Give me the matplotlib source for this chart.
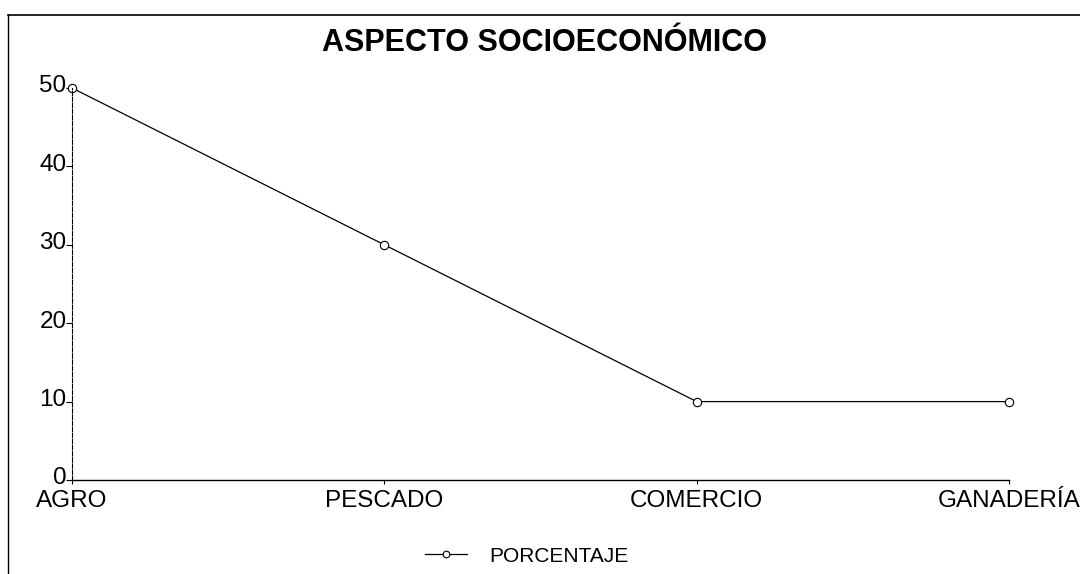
import matplotlib
matplotlib.use("Agg")
import matplotlib.pyplot as plt
import matplotlib.transforms as mtransforms
from matplotlib.lines import Line2D

categories = ["AGRO", "PESCADO", "COMERCIO", "GANADERÍA"]
porcentaje = [50, 30, 10, 10]
yticks = [0, 10, 20, 30, 40, 50]

plt.rcParams['font.family'] = ['Liberation Sans', 'DejaVu Sans']

W, H = 1080, 574
fig = plt.figure(figsize=(W / 100, H / 100), dpi=100)
ax = fig.add_axes([72 / W, 1 - 480 / H, (1009 - 72) / W, (480 - 88) / H])

x = list(range(len(categories)))
ax.plot(x, porcentaje, color='black', lw=0.9, marker='o', ms=6,
        mfc='white', mec='black', mew=0.8, label='PORCENTAJE', clip_on=False)

ax.set_xlim(0, len(categories) - 1)
ax.set_ylim(0, 50)
ax.set_xticks(x)
ax.set_xticklabels(categories, fontsize=17.5)
ax.set_yticks(yticks)
ax.set_yticklabels([str(v) for v in yticks], fontsize=17.5)
ax.tick_params(axis='y', length=4, width=0.8, pad=0, colors='black')
ax.tick_params(axis='x', length=3, width=0.8, pad=4, colors='black')
# nudge y tick labels slightly upward, as in the reference
offset = mtransforms.ScaledTranslation(0, 3 / 72, fig.dpi_scale_trans)
for lbl in ax.get_yticklabels():
    lbl.set_transform(lbl.get_transform() + offset)
for s in ['top', 'right']:
    ax.spines[s].set_visible(False)
ax.spines['left'].set_linestyle((0, (4, 1.5)))
ax.spines['left'].set_linewidth(0.8)
ax.spines['bottom'].set_linewidth(1.0)

fig.text(545 / W, 1 - 43 / H, "ASPECTO SOCIOECONÓMICO", ha='center', va='center',
         fontsize=22, fontweight='bold')

leg = fig.legend(loc='center', bbox_to_anchor=(527 / W, 1 - 556 / H), frameon=False,
                 fontsize=15, handlelength=2.0, handletextpad=1.1, markerscale=0.8)

# outer frame lines (left and top)
fig.add_artist(Line2D([8 / W, 8 / W], [0, 1 - 15 / H], transform=fig.transFigure,
                      color='black', lw=1.0))
fig.add_artist(Line2D([8 / W, 1], [1 - 15 / H, 1 - 15 / H], transform=fig.transFigure,
                      color='black', lw=1.2))

fig.savefig("out.png", dpi=100)
